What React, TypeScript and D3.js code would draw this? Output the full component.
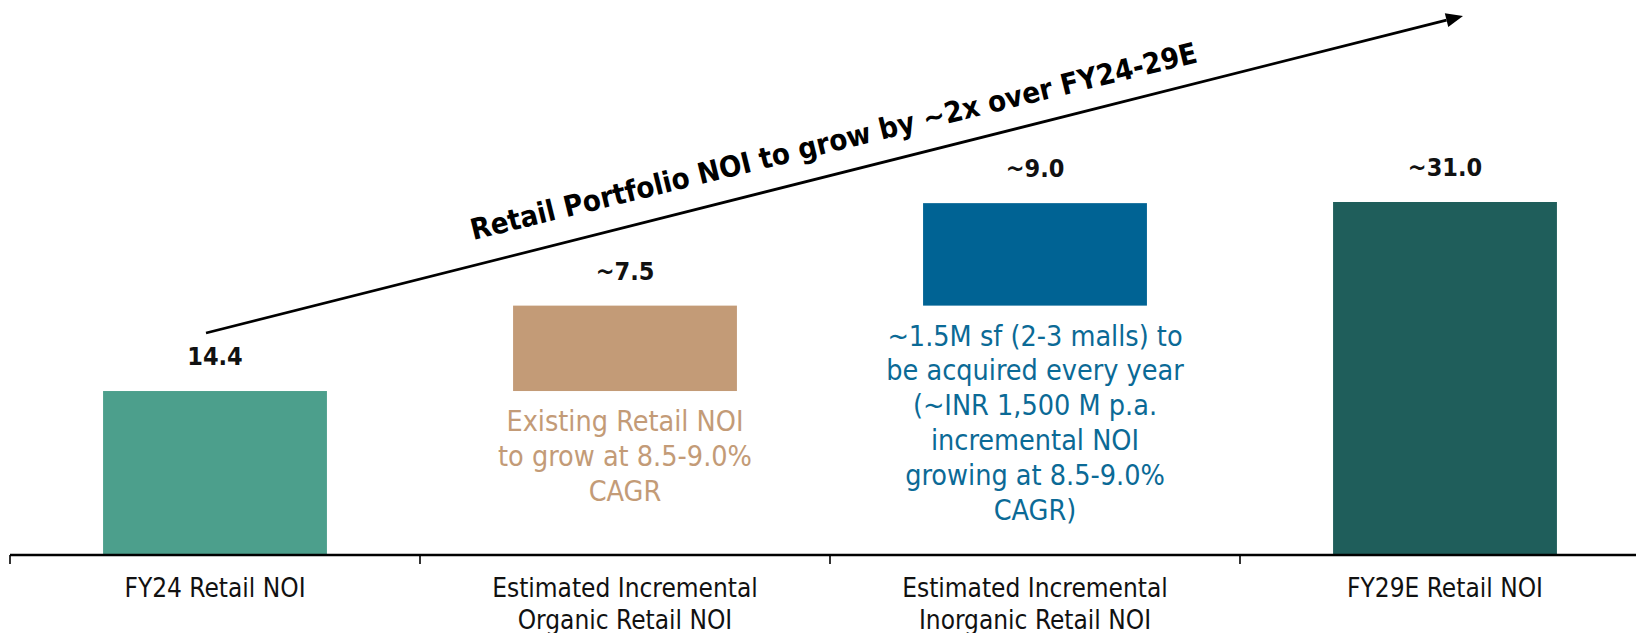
import React from "react";
import * as d3 from "d3";

// ---- data ----
const categories = [
  "FY24 Retail NOI",
  "Estimated Incremental\nOrganic Retail NOI",
  "Estimated Incremental\nInorganic Retail NOI",
  "FY29E Retail NOI",
];
const values = [14.4, 7.5, 9.0, 31.0];
const barKinds = ["total", "delta", "delta", "total"];
const valueLabels = ["14.4", "~7.5", "~9.0", "~31.0"];
const notes = [
  "",
  "Existing Retail NOI\nto grow at 8.5-9.0%\nCAGR",
  "~1.5M sf (2-3 malls) to\nbe acquired every year\n(~INR 1,500 M p.a.\nincremental NOI\ngrowing at 8.5-9.0%\nCAGR)",
  "",
];
const barColors = ["#4C9F8C", "#C39B77", "#006394", "#1F5E5B"];
const noteColors = ["#000", "#C39B77", "#0B6A96", "#000"];
const title = "Retail Portfolio NOI to grow by ~2x over FY24-29E";

const W = 1636;
const H = 633;
const FONT = "'DejaVu Sans Condensed', 'DejaVu Sans', sans-serif";

export default function App() {
  const axisY = 555;
  const x = d3.scaleBand<string>().domain(categories).range([10, 1650]).padding(0);
  const y = d3.scaleLinear().domain([0, 31]).range([axisY, 202]);
  const barW = x.bandwidth() * 0.546;

  // waterfall extents
  let run = 0;
  const bars = values.map((v, i) => {
    let lo: number, hi: number;
    if (barKinds[i] === "total") {
      lo = 0;
      hi = v;
      run = v;
    } else {
      lo = run;
      hi = run + v;
      run = hi;
    }
    return { cat: categories[i], lo, hi, i };
  });

  // arrow
  const ax0 = 206, ay0 = 333, ax1 = 1463, ay1 = 16;
  const ang = Math.atan2(ay1 - ay0, ax1 - ax0);
  const headL = 17, headW = 7;
  const bx = ax1 - headL * Math.cos(ang);
  const by = ay1 - headL * Math.sin(ang);
  const px = -Math.sin(ang), py = Math.cos(ang);
  const head = `${ax1},${ay1} ${bx + px * headW},${by + py * headW} ${bx - px * headW},${by - py * headW}`;

  const ticks = categories.map((c) => x(c)!).concat([x(categories[3])! + x.bandwidth()]);

  return (
    <svg
      width={W}
      height={H}
      style={{ position: "absolute", left: 0, top: 0, background: "#fff" }}
      fontFamily={FONT}
    >
      {/* bars */}
      {bars.map((b) => {
        const cx = x(b.cat)! + x.bandwidth() / 2;
        return (
          <rect
            key={b.cat}
            x={cx - barW / 2}
            y={y(b.hi)}
            width={barW}
            height={y(b.lo) - y(b.hi)}
            fill={barColors[b.i]}
          />
        );
      })}
      {/* value labels */}
      {bars.map((b) => {
        const cx = x(b.cat)! + x.bandwidth() / 2;
        return (
          <text
            key={"v" + b.cat}
            x={cx}
            y={y(b.hi) - 26}
            textAnchor="middle"
            fontSize={25}
            fontWeight="bold"
            fontStretch="condensed"
            fill="#111"
          >
            {valueLabels[b.i]}
          </text>
        );
      })}
      {/* notes below floating bars */}
      {bars.map((b) => {
        if (!notes[b.i]) return null;
        const cx = x(b.cat)! + x.bandwidth() / 2;
        const lines = notes[b.i].split("\n");
        return (
          <text
            key={"n" + b.cat}
            x={cx}
            y={y(b.lo) + 40}
            textAnchor="middle"
            fontSize={28.5}
            fontStretch="condensed"
            fill={noteColors[b.i]}
          >
            {lines.map((l, k) => (
              <tspan key={k} x={cx} dy={k === 0 ? 0 : 34.8}>
                {l}
              </tspan>
            ))}
          </text>
        );
      })}
      {/* axis */}
      <line x1={10} x2={W} y1={axisY} y2={axisY} stroke="#000" strokeWidth={2.3} />
      {ticks.map((t, k) => (
        <line key={"t" + k} x1={t} x2={t} y1={axisY} y2={axisY + 9} stroke="#000" strokeWidth={1.6} />
      ))}
      {categories.map((c) => {
        const cx = x(c)! + x.bandwidth() / 2;
        const lines = c.split("\n");
        return (
          <text key={"c" + c} x={cx} y={597} textAnchor="middle" fontSize={26} fontStretch="condensed" fill="#111">
            {lines.map((l, k) => (
              <tspan key={k} x={cx} dy={k === 0 ? 0 : 32}>
                {l}
              </tspan>
            ))}
          </text>
        );
      })}
      {/* arrow */}
      <line x1={ax0} y1={ay0} x2={bx} y2={by} stroke="#000" strokeWidth={2.8} />
      <polygon points={head} fill="#000" />
      {/* title along arrow */}
      <text
        transform={`translate(836,151) rotate(-13.8)`}
        textAnchor="middle"
        fontSize={29}
        fontWeight="bold"
        fontStretch="condensed"
        fill="#000"
        textLength={747}
        lengthAdjust="spacingAndGlyphs"
      >
        {title}
      </text>
    </svg>
  );
}
